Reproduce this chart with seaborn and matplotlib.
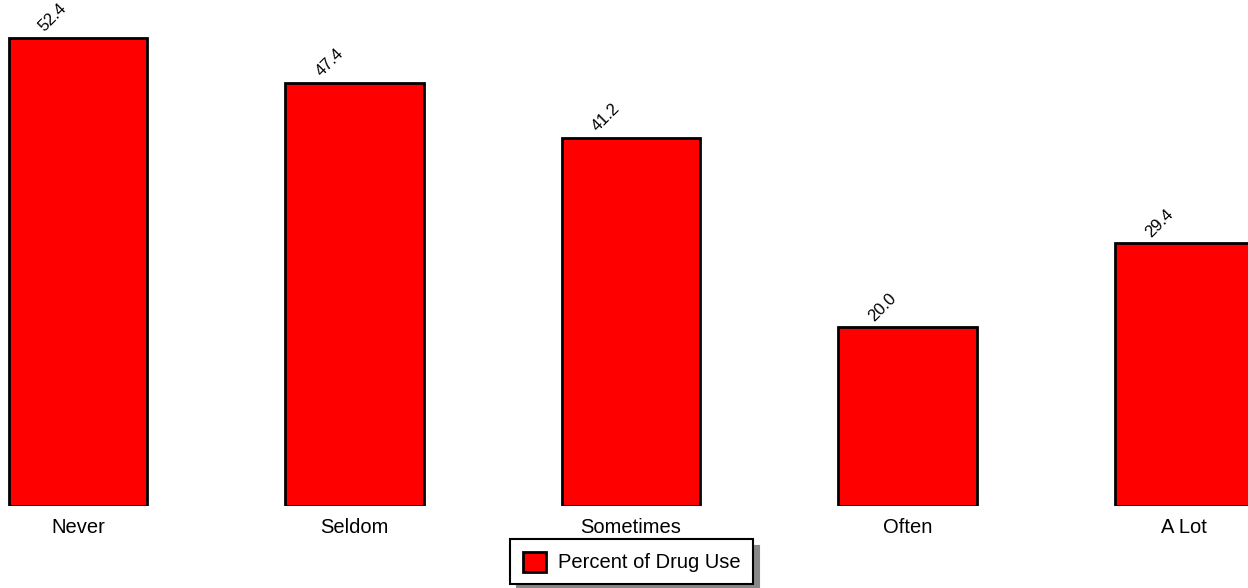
import matplotlib
matplotlib.use("Agg")
import matplotlib.pyplot as plt
import seaborn as sns
import pandas as pd

categories = ["Never", "Seldom", "Sometimes", "Often", "A Lot"]
percents = [52.4, 47.4, 41.2, 20.0, 29.4]
series_name = "Percent of Drug Use"

df = pd.DataFrame({"category": categories, "percent": percents})

sns.set_style("white")
plt.rcParams["font.family"] = ["Liberation Sans", "DejaVu Sans"]

fig = plt.figure(figsize=(12.48, 5.88), dpi=100)
ax = fig.add_axes([0, 0.1395, 1, 0.8605])

sns.barplot(data=df, x="category", y="percent", color="#ff0000", saturation=1,
            edgecolor="black", linewidth=2, width=0.5, label=series_name, ax=ax)

for i, v in enumerate(percents):
    ax.text(i - 0.09, v + 0.4, f"{v:.1f}", rotation=45, ha="center", va="bottom",
            fontsize=12, color="black")

ax.set_xlim(-0.282, 4.231)
ax.set_ylim(0, 56.66)
ax.set_xlabel("")
ax.set_ylabel("")
ax.set_yticks([])
ax.tick_params(axis="x", length=0, labelsize=14.5, pad=9, labelcolor="black")
for s in ax.spines.values():
    s.set_visible(False)

leg = ax.legend(loc="lower center", bbox_to_anchor=(0.506, 0.006), bbox_transform=fig.transFigure,
                borderaxespad=0, frameon=True, fancybox=False,
                shadow={"color": "#888888", "alpha": 1, "ox": 5, "oy": -5},
                edgecolor="black", fontsize=14.5, handlelength=1.15, handleheight=1.15,
                borderpad=0.6, handletextpad=0.6, framealpha=1)
leg.get_frame().set_linewidth(1.5)
for t in leg.get_texts():
    t.set_color("black")

fig.savefig("out.png", dpi=100)
